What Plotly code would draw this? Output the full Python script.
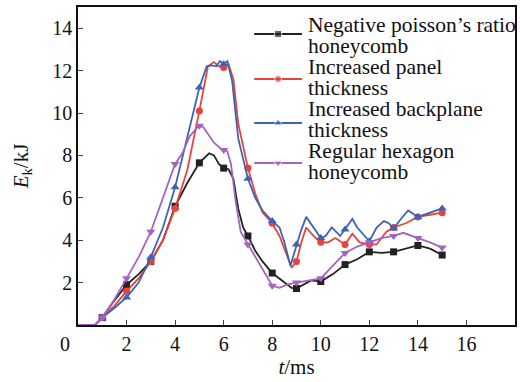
import plotly.graph_objects as go

# ---------------- data ----------------
neg_t = [0, 0.7, 1.0, 1.4, 2.0, 2.5, 3.0, 3.5, 4.0, 4.5, 5.0, 5.2, 5.4, 5.6, 5.8, 6.0, 6.2, 6.4, 6.6, 6.8,
         7.0, 7.3, 7.6, 8.0, 8.4, 8.8, 9.0, 9.3, 9.6, 10.0, 10.5, 11.0, 11.5, 12.0, 12.5, 13.0, 13.5, 14.0, 14.5, 15.0]
neg_e = [0, 0, 0.35, 1.0, 1.9, 2.4, 3.0, 4.0, 5.6, 6.7, 7.65, 7.9, 8.1, 8.0, 7.6, 7.4, 7.35, 6.9, 5.5, 4.6,
         4.2, 3.5, 3.0, 2.45, 2.1, 1.75, 1.72, 1.9, 2.1, 2.05, 2.4, 2.85, 3.1, 3.45, 3.4, 3.45, 3.6, 3.75, 3.6, 3.3]

panel_t = [0, 0.7, 1.0, 1.5, 2.0, 2.5, 3.0, 3.5, 4.0, 4.5, 5.0, 5.2, 5.35, 5.6, 5.8, 6.0, 6.2, 6.4, 6.6, 7.0,
           7.3, 7.6, 8.0, 8.3, 8.6, 8.8, 9.0, 9.2, 9.4, 9.7, 10.0, 10.3, 10.6, 11.0, 11.3, 11.6, 12.0, 12.3, 12.7,
           13.0, 13.5, 14.0, 14.5, 15.0]
panel_e = [0, 0, 0.35, 0.9, 1.6, 2.2, 3.0, 4.0, 5.5, 7.3, 10.1, 11.4, 12.2, 12.4, 12.2, 12.15, 12.3, 11.6, 9.5, 7.4,
           6.2, 5.3, 4.8, 4.2, 3.3, 2.7, 3.0, 3.9, 4.6, 4.2, 3.9, 3.9, 4.1, 3.8, 4.3, 3.9, 3.8, 3.8, 4.4,
           4.6, 4.8, 5.1, 5.2, 5.3]

back_t = [0, 0.7, 1.0, 1.5, 2.0, 2.5, 3.0, 3.5, 4.0, 4.5, 5.0, 5.3, 5.5, 5.7, 5.85, 6.0, 6.15, 6.35, 6.6, 7.0,
          7.3, 7.6, 8.0, 8.3, 8.5, 8.75, 9.0, 9.2, 9.4, 9.7, 10.0, 10.2, 10.45, 10.8, 11.0, 11.3, 11.5, 11.8, 12.0,
          12.3, 12.6, 12.8, 13.0, 13.3, 13.6, 14.0, 14.5, 15.0]
back_e = [0, 0, 0.35, 0.8, 1.3, 2.0, 3.2, 4.6, 6.5, 8.8, 11.2, 12.2, 12.25, 12.2, 12.45, 12.3, 12.45, 11.5, 8.8, 6.9,
          6.0, 5.4, 4.9, 4.6, 3.9, 2.8, 3.8, 4.5, 5.1, 4.6, 4.1, 4.2, 4.6, 4.2, 4.5, 5.0, 4.6, 4.2, 3.95,
          4.6, 4.9, 4.8, 4.55, 5.0, 5.4, 5.1, 5.3, 5.5]

hexa_t = [0, 0.7, 1.0, 1.5, 2.0, 2.5, 3.0, 3.5, 4.0, 4.3, 4.6, 4.9, 5.0, 5.15, 5.3, 5.6, 5.9, 6.0, 6.15, 6.3, 6.5,
          6.7, 7.0, 7.3, 7.6, 8.0, 8.3, 8.6, 9.0, 9.5, 10.0, 10.5, 11.0, 11.5, 12.0, 12.5, 13.0, 13.4, 14.0,
          14.5, 15.0]
hexa_e = [0, 0, 0.35, 1.2, 2.2, 3.2, 4.4, 6.0, 7.6, 8.1, 8.9, 9.3, 9.4, 9.35, 9.1, 8.6, 8.3, 8.25, 8.2, 7.6, 5.8,
          4.4, 3.8, 3.2, 2.6, 1.85, 1.75, 1.9, 2.0, 2.1, 2.2, 2.8, 3.4, 3.7, 3.9, 4.1, 4.2, 4.35, 4.1,
          3.9, 3.65]

series_names = [
    ["Negative poisson\u2019s ratio", "honeycomb"],
    ["Increased panel", "thickness"],
    ["Increased backplane", "thickness"],
    ["Regular hexagon", "honeycomb"],
]
x_ticks = [2, 4, 6, 8, 10, 12, 14, 16]
y_ticks = [2, 4, 6, 8, 10, 12, 14]

# ---------------- styles ----------------
colors = ["#222222", "#e8433b", "#3d63b5", "#a563c0"]
symbols = ["square", "circle", "triangle-up", "triangle-down"]
msizes = [7, 7, 8, 8]
FONT = "Liberation Serif, Times New Roman, serif"

data = [(neg_t, neg_e), (panel_t, panel_e), (back_t, back_e), (hexa_t, hexa_e)]

fig = go.Figure()
for (t, e), c, s, ms, nm in zip(data, colors, symbols, msizes, series_names):
    fig.add_trace(go.Scatter(x=t, y=e, mode="lines", line=dict(color=c, width=1.8),
                             showlegend=False, hoverinfo="skip"))
    mt = [ti for ti in t if ti >= 1 and abs(ti - round(ti)) < 1e-9]
    me = [ei for ti, ei in zip(t, e) if ti >= 1 and abs(ti - round(ti)) < 1e-9]
    fig.add_trace(go.Scatter(x=mt, y=me, mode="markers", name=" ".join(nm),
                             marker=dict(color=c, symbol=s, size=ms), showlegend=False))

# ---------------- manual legend (pixel-space overlay axes) ----------------
L_LEFT, L_RIGHT, L_TOP, L_BOT = 78, 517, 7, 325
leg_line_x = [255, 279, 303]
leg_line_y = [34, 79, 123, 163]
text_mid_y = [25, 46, 67, 88, 109, 130, 151, 172]
for i, (c, s, ms) in enumerate(zip(colors, symbols, msizes)):
    yy = leg_line_y[i]
    fig.add_trace(go.Scatter(x=leg_line_x, y=[yy] * 3, xaxis="x2", yaxis="y2",
                             mode="lines+markers", line=dict(color=c, width=2.2),
                             marker=dict(color=c, symbol=s, size=[0, ms, 0]),
                             showlegend=False, hoverinfo="skip"))
annots = []
k = 0
for nm in series_names:
    for line in nm:
        annots.append(dict(x=307, y=text_mid_y[k], xref="x2", yref="y2", text=line,
                           showarrow=False, xanchor="left", yanchor="middle",
                           font=dict(family=FONT, size=21.5, color="#111")))
        k += 1
# origin label
annots.append(dict(x=0, y=0, xref="x", yref="y", text="0", showarrow=False,
                   xanchor="center", yanchor="top", xshift=-13, yshift=-6,
                   font=dict(family=FONT, size=20, color="#111")))

fig.update_layout(
    width=520, height=382,
    margin=dict(l=L_LEFT, r=520 - L_RIGHT, t=L_TOP, b=382 - L_BOT),
    paper_bgcolor="white", plot_bgcolor="white",
    font=dict(family=FONT, size=20, color="#111"),
    annotations=annots,
    xaxis=dict(range=[0, 18], tickvals=x_ticks, ticks="inside", ticklen=5, tickwidth=1.2,
               showline=True, linecolor="#111", linewidth=1.5, mirror=True,
               showgrid=False, zeroline=False, tickfont=dict(size=20),
               title=dict(text="<i>t</i>/ms", font=dict(size=21), standoff=4)),
    yaxis=dict(range=[0, 15], tickvals=y_ticks, ticks="inside", ticklen=5, tickwidth=1.2,
               showline=True, linecolor="#111", linewidth=1.5, mirror=True,
               showgrid=False, zeroline=False, tickfont=dict(size=20),
               title=dict(text="<i>E</i><sub>k</sub>/kJ", font=dict(size=21), standoff=18)),
    xaxis2=dict(range=[L_LEFT, L_RIGHT], overlaying="x", visible=False, fixedrange=True),
    yaxis2=dict(range=[L_BOT, L_TOP], overlaying="y", visible=False, fixedrange=True),
)

fig.write_html("out.html")
